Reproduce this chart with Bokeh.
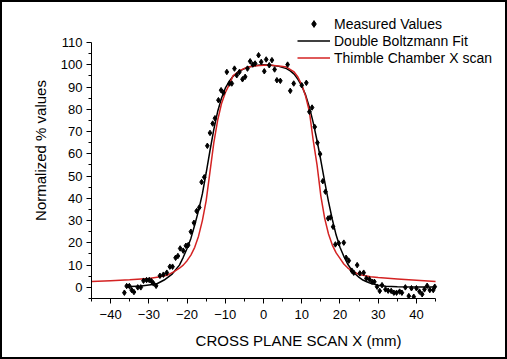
from bokeh.plotting import figure
from bokeh.models import FixedTicker, Legend, LegendItem, Range1d
from bokeh.embed import file_html
from bokeh.resources import INLINE

# Measured values (x in mm, normalized %)
meas_x = [-36.4, -35.8, -35.1, -34.5, -33.9, -32.9, -32.1, -31.4, -30.6, -29.9, -29.3, -28.8, -28.1,
          -27.1, -26.2, -25.3, -24.5, -23.8, -23.0, -22.4, -21.8, -21.0, -20.3, -19.7, -19.0, -18.2,
          -17.5, -16.8, -16.2, -15.5, -14.7, -14.0, -13.3, -12.7, -11.8, -11.1, -10.5, -9.6, -8.9,
          -8.3, -7.6, -7.0, -6.3, -5.5, -4.8, -4.2, -3.5, -2.8, -2.2, -1.3, -0.6, 0.2, 0.7, 1.5,
          2.2, 2.9, 3.5, 4.4, 6.3, 7.0, 7.9, 10.0, 11.2, 12.0, 12.7, 13.4, 14.1, 14.8, 15.5, 16.2,
          16.9, 17.5, 18.2, 18.8, 19.7, 21.0, 21.6, 22.3, 23.1, 23.6, 24.5, 25.2, 26.2, 26.9, 27.7,
          28.4, 29.0, 29.7, 30.4, 31.0, 31.9, 32.6, 33.4, 34.1, 34.8, 35.6, 36.2, 37.1, 38.0, 38.7,
          39.3, 40.0, 40.8, 41.5, 42.1, 42.8, 43.5, 44.4, 44.8]
meas_y = [-2.4, 0.6, 0.6, -1.2, -2.1, 0.0, 0.0, 3.0, 3.3, 3.3, 2.8, 1.8, 0.7,
          5.2, 5.7, 6.6, 9.3, 9.3, 13.3, 14.1, 17.5, 16.5, 18.7, 19.0, 25.0, 29.0,
          34.3, 35.9, 47.3, 49.5, 63.6, 69.4, 73.6, 76.0, 84.1, 88.6, 87.5, 96.8, 91.6,
          91.6, 98.3, 95.3, 96.8, 93.5, 94.6, 98.3, 101.6, 100.1, 100.6, 104.3, 101.3, 97.1, 102.4, 99.8,
          102.1, 97.9, 93.1, 92.8, 100.1, 88.3, 91.6, 90.8, 91.9, 78.9, 80.8, 72.1, 65.0, 59.9, 47.7, 43.0,
          31.0, 31.4, 27.2, 19.3, 19.8, 20.1, 13.3, 12.0, 7.5, 6.6, 10.0, 6.3, 6.6, 4.0, 3.6,
          2.5, 2.5, 0.3, -1.6, 1.0, -0.9, -1.5, -1.6, -2.4, -2.4, -1.9, -2.4, 0.0, -3.9, -0.4,
          -4.2, -0.4, -1.9, -3.1, -0.9, 0.7, -1.2, -1.2, 0.3]

# Double Boltzmann fit
fit_x = [-36, -32, -28, -26, -24, -22, -21, -20, -19, -18, -17, -16, -15, -14, -13, -12, -11, -10,
         -9, -8, -7, -6, -5, -4, -2, 0, 2, 4, 6, 7, 8, 9, 10, 11, 12, 13, 14, 15, 16, 17, 18, 19,
         20, 21, 22, 23, 24, 25, 26, 27, 28, 30, 32, 35, 40, 45]
fit_y = [0.3, 0.6, 1.5, 3.3, 5.8, 10.0, 13.5, 17.5, 22.0, 28.0, 34.5, 42.0, 51.5, 61.5, 71.0, 79.0,
         85.0, 89.5, 92.5, 94.8, 96.2, 97.4, 98.3, 99.0, 99.7, 100.0, 99.8, 99.3, 98.3, 97.3, 95.8,
         93.5, 90.5, 86.5, 81.0, 74.0, 66.0, 57.0, 47.5, 38.5, 30.5, 23.5, 18.0, 14.0, 10.5, 8.0,
         6.0, 4.5, 3.3, 2.5, 1.8, 0.9, 0.5, 0.3, 0.2, 0.2]

# Thimble chamber X scan
thim_x = [-45, -40, -35, -30, -27, -25, -23.5, -22, -21, -20, -19, -18, -17, -16, -15, -14, -13,
          -12, -11, -10, -9, -8, -6, -4, -2, 0, 2, 4, 6, 8, 9, 10, 11, 12, 13, 14, 15, 16, 17, 18,
          19, 20, 21, 22, 23, 25, 28, 30, 35, 40, 45]
thim_y = [2.6, 3.0, 3.4, 4.0, 4.8, 5.6, 7.0, 8.6, 10.0, 12.0, 14.5, 18.0, 23.0, 30.0, 39.0, 52.0,
          65.0, 75.0, 82.5, 87.5, 91.0, 95.0, 97.6, 99.0, 99.6, 99.8, 99.8, 99.5, 99.0, 96.8, 94.5,
          91.0, 86.0, 79.0, 66.0, 55.0, 41.0, 31.0, 24.0, 19.0, 15.5, 13.0, 10.5, 8.8, 7.5, 5.8,
          4.8, 4.4, 3.8, 3.2, 2.6]

x_major = [-40, -30, -20, -10, 0, 10, 20, 30, 40]
x_minor = [-45, -35, -25, -15, -5, 5, 15, 25, 35, 45]
y_major = [0, 10, 20, 30, 40, 50, 60, 70, 80, 90, 100, 110]
y_minor = [-5, 5, 15, 25, 35, 45, 55, 65, 75, 85, 95, 105]

FONT = "Liberation Sans"

# frame: 91px..505px horizontally, 2px..298px vertically (page coords, 2px border);
# axes are drawn only over the data extent
p = figure(width=507, height=359, output_backend="svg", toolbar_location=None,
           x_range=Range1d(-45, 63.3), y_range=Range1d(-5, 128.0),
           min_border_left=89, min_border_right=4, min_border_top=0, min_border_bottom=63)
p.outline_line_color = None
p.xgrid.visible = False
p.ygrid.visible = False
p.styles = {"border": "2px solid black", "box-sizing": "border-box"}

r_fit = p.line(fit_x, fit_y, line_color="black", line_width=1.5)
r_thim = p.line(thim_x, thim_y, line_color="#d42323", line_width=1.5)
r_meas = p.scatter(meas_x, meas_y, marker="diamond", size=5.5, fill_color="black", line_color="black")

for ax, maj, mnr, bnd in ((p.xaxis[0], x_major, x_minor, (-45, 45)),
                          (p.yaxis[0], y_major, y_minor, (-5, 110))):
    ax.ticker = FixedTicker(ticks=maj, minor_ticks=mnr)
    ax.bounds = bnd
    ax.axis_line_color = "black"
    ax.major_tick_line_color = "black"
    ax.minor_tick_line_color = "black"
    ax.major_tick_out = 5
    ax.major_tick_in = 0
    ax.minor_tick_out = 3
    ax.minor_tick_in = 0
    ax.major_label_text_font = FONT
    ax.major_label_text_font_size = "13px"
    ax.major_label_text_color = "black"
    ax.axis_label_text_font = FONT
    ax.axis_label_text_font_size = "15px"
    ax.axis_label_text_font_style = "normal"
    ax.axis_label_text_color = "black"

p.xaxis.axis_label = "CROSS PLANE SCAN X (mm)"
p.yaxis.axis_label = "Normalized % values"
p.xaxis.major_label_standoff = 6
p.yaxis.major_label_standoff = 4
p.xaxis.axis_label_standoff = 10
p.yaxis.axis_label_standoff = 9

legend = Legend(items=[LegendItem(label="Measured Values", renderers=[r_meas]),
                       LegendItem(label="Double Boltzmann Fit", renderers=[r_fit]),
                       LegendItem(label="Thimble Chamber X scan", renderers=[r_thim])],
                location=(206, 232))
legend.border_line_color = None
legend.background_fill_alpha = 0
legend.padding = 0
legend.margin = 0
legend.spacing = 0
legend.glyph_width = 33
legend.glyph_height = 17
legend.label_height = 17
legend.label_standoff = 4
legend.label_text_font = FONT
legend.label_text_font_size = "14px"
legend.label_text_color = "black"
p.add_layout(legend, "center")

open("out.html", "w").write(file_html(p, INLINE))
